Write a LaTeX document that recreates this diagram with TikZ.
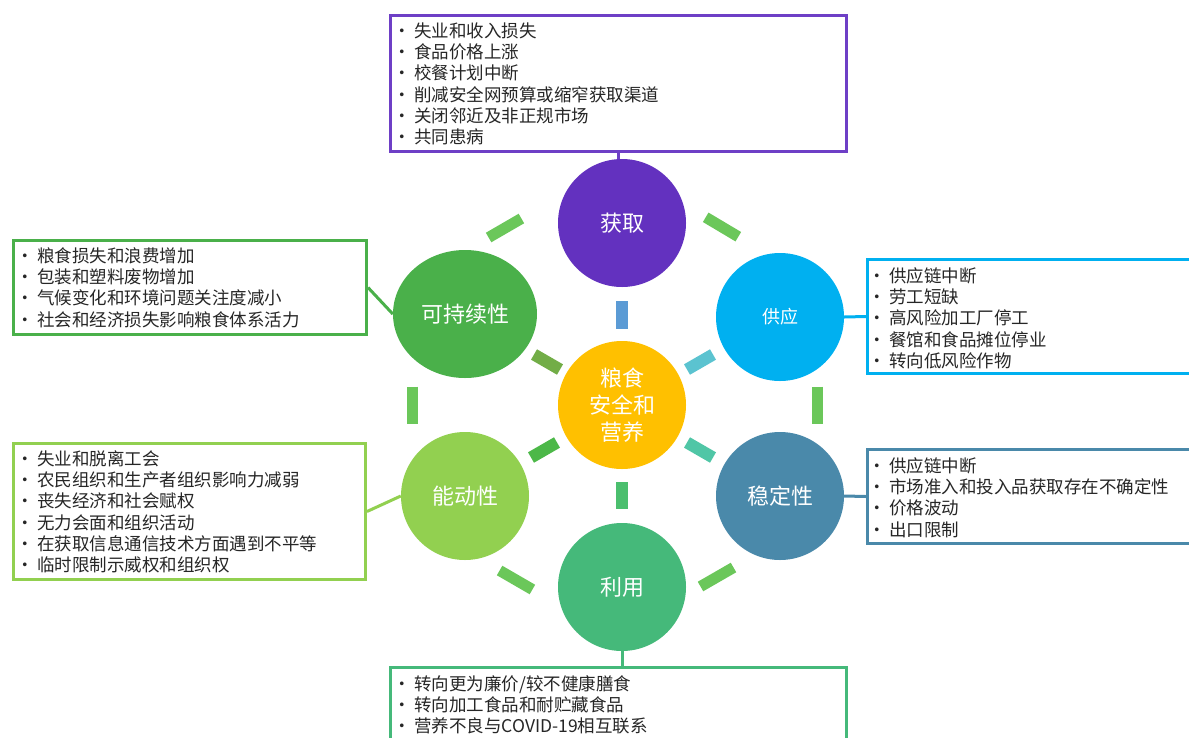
\documentclass[tikz,border=0pt]{standalone}
\usepackage{fontspec}
\setmainfont{Noto Sans CJK SC}
\usetikzlibrary{shapes.geometric,calc}
\definecolor{cGet}{HTML}{6331BF}
\definecolor{cGetBox}{HTML}{6E3FC6}
\definecolor{cSup}{HTML}{00B0F0}
\definecolor{cStab}{HTML}{4A89AA}
\definecolor{cUtil}{HTML}{45B97A}
\definecolor{cAg}{HTML}{92D050}
\definecolor{cSus}{HTML}{4AB04A}
\definecolor{cCen}{HTML}{FFC000}
\definecolor{cRing}{HTML}{6BC75A}
\definecolor{cInTop}{HTML}{5B9BD5}
\definecolor{cInUR}{HTML}{5BC3D0}
\definecolor{cInLR}{HTML}{50C6A6}
\definecolor{cInBot}{HTML}{4BBF6E}
\definecolor{cInLL}{HTML}{4CB848}
\definecolor{cInUL}{HTML}{72AD47}
\definecolor{cText}{HTML}{262626}
\newcommand\bul{\makebox[10pt][c]{•}\hspace{7pt}}
\tikzset{
  dim/.style={circle, inner sep=0pt, minimum size=128pt, text=white,
    font=\fontsize{22pt}{27pt}\selectfont, align=center},
  infobox/.style={draw, line width=3pt, fill=white, inner sep=0pt, anchor=north west},
  infotext/.style={anchor=north west, inner sep=0pt, align=left, text=cText,
    font=\fontsize{17.5pt}{21.2pt}\selectfont},
  link/.style={line width=3pt},
  ringbar/.style={line width=11pt, draw=cRing},
  innerbar/.style={line width=12pt}
}
\begin{document}
\begin{tikzpicture}[x=1pt,y=-1pt]
\useasboundingbox (0,0) rectangle (1189,737);
\clip (0,0) rectangle (1189,737);

% circles
\node[dim, fill=cGet] (get) at (622,223) {获取};
\node[dim, fill=cSup, font=\fontsize{18pt}{22pt}\selectfont] (sup) at (780,317) {供应};
\node[dim, fill=cStab] (stab) at (780,496) {稳定性};
\node[dim, fill=cUtil] (util) at (622,587) {利用};
\node[dim, fill=cAg] (ag) at (465,496) {能动性};
\node[dim, ellipse, minimum width=144pt, minimum height=128pt, fill=cSus] (sus) at (465,314) {可持续性};
\node[dim, fill=cCen] (cen) at (622,405) {粮食\\安全和\\营养};

% ring bars
\draw[ringbar] (488.6,237.5) -- (521.4,218.5);
\draw[ringbar] (705.7,217.3) -- (738.3,236.7);
\draw[ringbar] (412,386.5) -- (412,423.5);
\draw[ringbar] (817,386.5) -- (817,423.5);
\draw[ringbar] (499.6,570.5) -- (532.4,589.5);
\draw[ringbar] (700.5,586.5) -- (733.5,567.5);

% inner bars
\draw[innerbar, draw=cInTop] (622,301) -- (622,329);
\draw[innerbar, draw=cInBot] (622,482) -- (622,509);
\draw[innerbar, draw=cInUL] (534,354.5) -- (560,369.5);
\draw[innerbar, draw=cInUR] (687,369.5) -- (713,354.5);
\draw[innerbar, draw=cInLL] (531,457.5) -- (557,442.5);
\draw[innerbar, draw=cInLR] (687,442.5) -- (713,457.5);

% boxes
\node[infobox, draw=cGetBox, minimum width=456pt, minimum height=136pt] (getbox) at (389,14) {};
\node[infobox, draw=cSus, minimum width=353pt, minimum height=94pt] (susbox) at (12,239) {};
\node[infobox, draw=cAg, minimum width=352pt, minimum height=136pt] (agbox) at (12,442) {};
\node[infobox, draw=cSup, minimum width=360pt, minimum height=114pt] (supbox) at (866,258) {};
\node[infobox, draw=cStab, minimum width=360pt, minimum height=94pt] (stabbox) at (866,448) {};
\node[infobox, draw=cUtil, minimum width=456pt, minimum height=120pt] (utilbox) at (389,666) {};

% texts
\node[infotext] at ([shift={(8,8.5)}]getbox.north west) {\bul 失业和收入损失\\\bul 食品价格上涨\\\bul 校餐计划中断\\\bul 削减安全网预算或缩窄获取渠道\\\bul 关闭邻近及非正规市场\\\bul 共同患病};
\node[infotext] at ([shift={(8,8.5)}]susbox.north west) {\bul 粮食损失和浪费增加\\\bul 包装和塑料废物增加\\\bul 气候变化和环境问题关注度减小\\\bul 社会和经济损失影响粮食体系活力};
\node[infotext] at ([shift={(8,8.5)}]agbox.north west) {\bul 失业和脱离工会\\\bul 农民组织和生产者组织影响力减弱\\\bul 丧失经济和社会赋权\\\bul 无力会面和组织活动\\\bul 在获取信息通信技术方面遇到不平等\\\bul 临时限制示威权和组织权};
\node[infotext] at ([shift={(6,9.5)}]supbox.north west) {\bul 供应链中断\\\bul 劳工短缺\\\bul 高风险加工厂停工\\\bul 餐馆和食品摊位停业\\\bul 转向低风险作物};
\node[infotext] at ([shift={(6,9.5)}]stabbox.north west) {\bul 供应链中断\\\bul 市场准入和投入品获取存在不确定性\\\bul 价格波动\\\bul 出口限制};
\node[infotext] at ([shift={(8,9.5)}]utilbox.north west) {\bul 转向更为廉价/较不健康膳食\\\bul 转向加工食品和耐贮藏食品\\\bul 营养不良与COVID-19相互联系};

% connectors
\draw[link, draw=cGetBox] (getbox.south) -- (getbox.south |- get.north);
\draw[link, draw=cSus] (susbox.east) -- (sus.west);
\draw[link, draw=cAg] (agbox.east) -- (ag.west);
\draw[link, draw=cSup] (sup.east) -- (supbox.west);
\draw[link, draw=cStab] (stab.east) -- (stabbox.west);
\draw[link, draw=cUtil] (util.south) -- (util.south |- utilbox.north);
\end{tikzpicture}
\end{document}
